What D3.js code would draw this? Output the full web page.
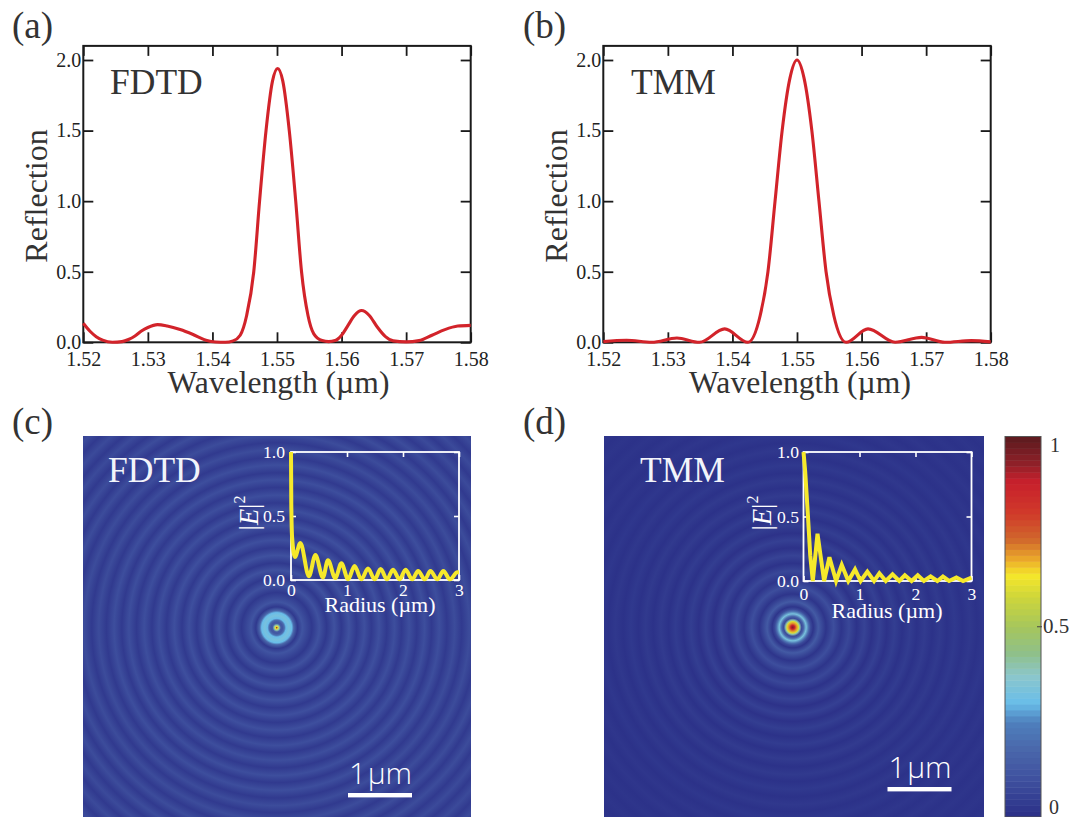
<!DOCTYPE html>
<html>
<head>
<meta charset="utf-8">
<script src="https://cdn.jsdelivr.net/npm/d3@7"></script>
<style>
body { margin: 0; background: #fff; }
text { font-family: "Liberation Serif", serif; }
</style>
</head>
<body>
<div id="chart"></div>
<script>
// Reflection spectra (a) and (b)
var fdtdWave = [1.52, 1.521, 1.522, 1.523, 1.5245, 1.526, 1.527, 1.528, 1.529, 1.53, 1.5315, 1.533, 1.535, 1.537, 1.539, 1.5405, 1.542, 1.5432, 1.5443, 1.5453, 1.5464, 1.5473, 1.5483, 1.5493, 1.5501, 1.5509, 1.5519, 1.5529, 1.5538, 1.5548, 1.5557, 1.557, 1.558, 1.559, 1.56, 1.561, 1.562, 1.5631, 1.5643, 1.5655, 1.5668, 1.568, 1.57, 1.572, 1.574, 1.576, 1.578, 1.58];
var fdtdRefl = [0.135, 0.08, 0.04, 0.015, 0, 0.005, 0.02, 0.045, 0.08, 0.105, 0.125, 0.115, 0.09, 0.055, 0.015, 0.002, 0, 0.01, 0.05, 0.19, 0.5, 1.0, 1.5, 1.85, 1.94, 1.85, 1.5, 1.0, 0.5, 0.19, 0.06, 0.012, 0.005, 0.012, 0.05, 0.12, 0.19, 0.225, 0.19, 0.11, 0.04, 0.01, 0.003, 0.012, 0.05, 0.09, 0.115, 0.12];
var tmmWave = [1.52, 1.5236, 1.5275, 1.5314, 1.5349, 1.5388, 1.5424, 1.5443, 1.5455, 1.5466, 1.5477, 1.5489, 1.55, 1.5511, 1.5523, 1.5534, 1.5545, 1.5557, 1.5576, 1.561, 1.5652, 1.5693, 1.5729, 1.577, 1.58];
var tmmRefl = [0.005, 0.015, 0, 0.03, 0, 0.095, 0, 0.19, 0.5, 1.0, 1.5, 1.87, 2.0, 1.87, 1.5, 1.0, 0.5, 0.19, 0, 0.095, 0, 0.035, 0, 0.012, 0.003];

// Radial |E|^2 profiles shown in the insets
var fdtdRadius = [0, 0.005, 0.02, 0.07, 0.167, 0.32, 0.436, 0.57, 0.66, 0.79, 0.9, 1.02, 1.135, 1.255, 1.375, 1.495, 1.6, 1.715, 1.82, 1.94, 2.045, 2.165, 2.27, 2.39, 2.49, 2.615, 2.72, 2.84, 2.97, 3];
var fdtdField = [1, 0.6, 0.33, 0.18, 0.29, 0.03, 0.195, 0.02, 0.155, 0.015, 0.13, 0.005, 0.11, 0.005, 0.09, 0.005, 0.086, 0.005, 0.08, 0.005, 0.08, 0.005, 0.07, 0.005, 0.07, 0.005, 0.07, 0.005, 0.06, 0.06];
var tmmRadius = [0, 0.03, 0.08, 0.12, 0.166, 0.25, 0.368, 0.463, 0.582, 0.683, 0.8, 0.92, 1.02, 1.14, 1.26, 1.355, 1.47, 1.59, 1.71, 1.81, 1.93, 2.04, 2.15, 2.27, 2.39, 2.49, 2.6, 2.73, 2.85, 3];
var tmmField = [1, 0.85, 0.5, 0.2, 0, 0.366, 0, 0.184, 0, 0.125, 0, 0.09, 0, 0.073, 0, 0.06, 0, 0.052, 0, 0.044, 0, 0.044, 0, 0.036, 0, 0.034, 0, 0.028, 0, 0.026];

// Ring profiles of the two maps (radius in um, intensity)
var fdtdMapR = [0, 0.02, 0.04, 0.065, 0.09, 0.12, 0.145, 0.19, 0.235, 0.265, 0.325, 0.4, 0.55, 0.665, 0.78, 0.9, 1.01, 1.13, 1.25, 1.37, 1.48, 1.6, 1.72, 1.84, 1.95, 2.07, 2.19, 2.31, 2.42, 2.54, 2.66, 2.78, 2.89, 3.01, 3.13, 3.25, 3.36, 3.48, 3.6, 3.72, 3.83, 3.95, 4.07, 4.19, 4.3];
var fdtdMapV = [0.95, 0.64, 0.4, 0.14, 0.12, 0.2, 0.3, 0.33, 0.3, 0.18, 0.03, 0.11, 0.03, 0.1, 0.03, 0.1, 0.03, 0.1, 0.035, 0.095, 0.035, 0.095, 0.035, 0.09, 0.035, 0.09, 0.035, 0.09, 0.035, 0.09, 0.035, 0.085, 0.035, 0.085, 0.035, 0.085, 0.035, 0.085, 0.035, 0.08, 0.035, 0.08, 0.035, 0.08, 0.035];
var tmmMapR = [0, 0.03, 0.06, 0.09, 0.11, 0.14, 0.17, 0.21, 0.25, 0.28, 0.32, 0.4, 0.52, 0.64, 0.76, 0.88, 1, 1.12, 1.24, 1.36, 1.47, 1.59, 1.71, 1.83, 1.94, 2.06, 2.18, 2.3, 2.41, 2.53, 2.65, 2.77, 2.88, 3, 3.12, 3.24, 3.35, 3.47, 3.59, 3.71, 3.82, 3.94, 4.06, 4.18, 4.3];
var tmmMapV = [0.95, 0.88, 0.7, 0.6, 0.4, 0.08, 0.17, 0.33, 0.2, 0.08, 0.02, 0.13, 0.02, 0.09, 0.02, 0.07, 0.015, 0.06, 0.012, 0.05, 0.012, 0.045, 0.01, 0.04, 0.01, 0.036, 0.01, 0.033, 0.01, 0.03, 0.01, 0.028, 0.01, 0.026, 0.01, 0.024, 0.01, 0.022, 0.01, 0.02, 0.01, 0.02, 0.01, 0.02, 0.01];

// Colour bar
var barValues = [0, 0.1, 0.18, 0.25, 0.3, 0.37, 0.43, 0.5, 0.58, 0.635, 0.68, 0.73, 0.8, 0.88, 0.93, 1];
var barColors = ["#2a2e86", "#3f519f", "#4a68ab", "#4f80bd", "#69bde9", "#8bc6cc", "#8fc08a", "#a6c65c", "#cfd63a", "#f5e72a", "#eaa62a", "#d0672c", "#d0392a", "#c8202c", "#8e2028", "#5a1a1e"];

var waveTicks = [1.52, 1.53, 1.54, 1.55, 1.56, 1.57, 1.58];
var reflTicks = [0, 0.5, 1, 1.5, 2];
var radiusTicks = [0, 1, 2, 3];
var fieldTicks = [0, 0.5, 1];

var svgWidth = 1084;
var svgHeight = 817;

var svg = d3.select("#chart")
            .append("svg")
            .attr("width", svgWidth)
            .attr("height", svgHeight)
            .style("display", "block");

var colorScale = d3.scaleLinear().domain(barValues).range(barColors);
var defs = svg.append("defs");

// Panels (a) and (b)
function spectrum(left, right, wave, refl, tag, tagX, name, labelX, titleX, yLabelX) {
    var xScale = d3.scaleLinear().domain([1.52, 1.58]).range([left, right]);
    var yScale = d3.scaleLinear().domain([0, 2]).range([342.3, 60]);
    var top = yScale(2.1);
    var bottom = yScale(0);
    var g = svg.append("g");

    // ticks on all four sides
    var axes = [
        g.append("g").attr("transform", `translate(0, ${bottom})`).call(d3.axisBottom(xScale).tickValues(waveTicks).tickSize(-10).tickPadding(9.5).tickFormat(d3.format(".2f"))),
        g.append("g").attr("transform", `translate(0, ${top})`).call(d3.axisBottom(xScale).tickValues(waveTicks).tickSize(10).tickFormat("")),
        g.append("g").attr("transform", `translate(${left}, 0)`).call(d3.axisLeft(yScale).tickValues(reflTicks).tickSize(-10).tickPadding(2).tickFormat(d3.format(".1f"))),
        g.append("g").attr("transform", `translate(${right}, 0)`).call(d3.axisLeft(yScale).tickValues(reflTicks).tickSize(10).tickFormat(""))
    ];
    axes.forEach(function(a) {
        a.selectAll(".domain").remove();
        a.selectAll("line").attr("stroke", "#1a1a1a").attr("stroke-width", 1.8);
        a.selectAll("text").attr("fill", "#222").attr("font-size", 20);
    });

    g.append("rect")
     .attr("x", left).attr("y", top)
     .attr("width", right - left).attr("height", bottom - top)
     .attr("fill", "none")
     .attr("stroke", "#1a1a1a")
     .attr("stroke-width", 2);

    var line = d3.line()
                 .x(d => xScale(d[0]))
                 .y(d => yScale(d[1]))
                 .curve(d3.curveMonotoneX);
    g.append("path")
     .datum(d3.zip(wave, refl))
     .attr("d", line)
     .attr("fill", "none")
     .attr("stroke", "#d2232a")
     .attr("stroke-width", 3.1);

    svg.append("text").text(tag).attr("x", tagX).attr("y", 38).attr("font-size", 37).attr("fill", "#333");
    svg.append("text").text(name).attr("x", labelX).attr("y", 94).attr("font-size", 35.5).attr("fill", "#333");
    svg.append("text").text("Wavelength (\u00b5m)").attr("x", titleX).attr("y", 393)
       .attr("text-anchor", "middle").attr("font-size", 31.6).attr("fill", "#333");
    svg.append("text").text("Reflection")
       .attr("transform", `translate(${yLabelX}, 196) rotate(-90)`)
       .attr("text-anchor", "middle").attr("font-size", 32).attr("fill", "#333");
}

spectrum(83.3, 470.7, fdtdWave, fdtdRefl, "(a)", 12, "FDTD", 110, 278.5, 47);
spectrum(603.3, 990.7, tmmWave, tmmRefl, "(b)", 523, "TMM", 631, 800, 567);

// Panels (c) and (d): map painted as a radial gradient, with |E|^2 inset on top
function fieldMap(opt) {
    var rMax = 4.3;
    var pxScale = d3.scaleLinear().domain([0, rMax]).range([0, rMax * opt.pxPerUm]);
    var stopScale = d3.scaleLinear().domain([0, rMax]).range([0, 1]);

    var grad = defs.append("radialGradient")
                   .attr("id", opt.id)
                   .attr("gradientUnits", "userSpaceOnUse")
                   .attr("cx", opt.cx).attr("cy", opt.cy)
                   .attr("fx", opt.cx).attr("fy", opt.cy)
                   .attr("r", pxScale(rMax));
    grad.selectAll("stop")
        .data(d3.zip(opt.mapR, opt.mapV))
        .enter()
        .append("stop")
        .attr("offset", d => stopScale(d[0]))
        .attr("stop-color", d => colorScale(d[1]));

    svg.append("rect")
       .attr("x", opt.left).attr("y", 436)
       .attr("width", opt.right - opt.left).attr("height", svgHeight - 436)
       .attr("fill", `url(#${opt.id})`);

    // inset
    var xScale = d3.scaleLinear().domain([0, 3]).range([opt.inLeft, opt.inRight]);
    var yScale = d3.scaleLinear().domain([0, 1]).range([opt.inBottom, 452]);
    var g = svg.append("g");

    var axes = [
        g.append("g").attr("transform", `translate(0, ${opt.inBottom})`).call(d3.axisBottom(xScale).tickValues(radiusTicks).tickSize(-5).tickPadding(opt.xPad).tickFormat(d3.format("d"))),
        g.append("g").attr("transform", "translate(0, 452)").call(d3.axisBottom(xScale).tickValues(radiusTicks).tickSize(5).tickFormat("")),
        g.append("g").attr("transform", `translate(${opt.inLeft}, 0)`).call(d3.axisLeft(yScale).tickValues(fieldTicks).tickSize(-5).tickPadding(opt.yPad).tickFormat(d3.format(".1f"))),
        g.append("g").attr("transform", `translate(${opt.inRight}, 0)`).call(d3.axisLeft(yScale).tickValues(fieldTicks).tickSize(5).tickFormat(""))
    ];
    axes.forEach(function(a) {
        a.selectAll(".domain").remove();
        a.selectAll("line").attr("stroke", "#fff").attr("stroke-width", 1.6);
        a.selectAll("text").attr("fill", "#fff").attr("font-size", 17.6);
    });

    g.append("rect")
     .attr("x", opt.inLeft).attr("y", 452)
     .attr("width", opt.inRight - opt.inLeft).attr("height", opt.inBottom - 452)
     .attr("fill", "none")
     .attr("stroke", "#fff")
     .attr("stroke-width", 1.8);

    var line = d3.line()
                 .x(d => xScale(d[0]))
                 .y(d => yScale(d[1]))
                 .curve(opt.curve);
    g.append("path")
     .datum(d3.zip(opt.radius, opt.field))
     .attr("d", line)
     .attr("fill", "none")
     .attr("stroke", "#f6e92b")
     .attr("stroke-width", 4)
     .attr("stroke-linejoin", "miter");

    // labels
    svg.append("text").text(opt.tag).attr("x", opt.tagX).attr("y", 434).attr("font-size", 37).attr("fill", "#333");
    svg.append("text").text(opt.name).attr("x", opt.nameX).attr("y", 482).attr("font-size", 35.5).attr("fill", "#f2f4fa");
    svg.append("text").text("Radius (\u00b5m)").attr("x", opt.radiusX).attr("y", opt.radiusY)
       .attr("text-anchor", "middle").attr("font-size", 22).attr("fill", "#fff");

    var eLabel = svg.append("text")
                    .attr("transform", `translate(${opt.eX}, 513) rotate(-90)`)
                    .attr("text-anchor", "middle")
                    .attr("font-size", 26.5)
                    .attr("fill", "#fff");
    eLabel.append("tspan").text("|");
    eLabel.append("tspan").text("E").attr("font-style", "italic");
    eLabel.append("tspan").text("|");
    eLabel.append("tspan").text("2").attr("font-size", 16).attr("dy", -13);

    // scale bar
    var barText = svg.append("text")
                     .attr("x", opt.barX + 1).attr("y", opt.barY - 11)
                     .attr("font-size", 30).attr("font-weight", 300).attr("fill", "#fff")
                     .style("font-family", "'Open Sans', 'Liberation Sans', sans-serif");
    barText.append("tspan").text("1");
    barText.append("tspan").text("\u00b5m").attr("dx", 1.5);
    svg.append("rect").attr("x", opt.barX).attr("y", opt.barY - 2)
       .attr("width", opt.pxPerUm).attr("height", 4.4).attr("fill", "#fff");
}

fieldMap({
    id: "mapC", left: 83, right: 471, cx: 276.7, cy: 627.7, pxPerUm: 64,
    mapR: fdtdMapR, mapV: fdtdMapV, radius: fdtdRadius, field: fdtdField, curve: d3.curveMonotoneX,
    inLeft: 291, inRight: 459, inBottom: 580, xPad: 3, yPad: 6,
    tag: "(c)", tagX: 12, name: "FDTD", nameX: 108,
    radiusX: 380, radiusY: 612, eX: 258, barX: 348, barY: 795
});
fieldMap({
    id: "mapD", left: 604, right: 984, cx: 792.7, cy: 627.3, pxPerUm: 64,
    mapR: tmmMapR, mapV: tmmMapV, radius: tmmRadius, field: tmmField, curve: d3.curveLinear,
    inLeft: 803.5, inRight: 971.5, inBottom: 581, xPad: 6.5, yPad: 4.5,
    tag: "(d)", tagX: 523, name: "TMM", nameX: 640,
    radiusX: 887, radiusY: 618, eX: 770.5, barX: 887.5, barY: 789
});

// Colour bar on the right
var barX = 1005;
var barW = 36;
var barScale = d3.scaleLinear().domain([0, 1]).range([817, 436.5]);
var levels = d3.range(64).map(i => i / 64);
svg.append("g")
   .selectAll("rect")
   .data(levels)
   .enter()
   .append("rect")
   .attr("x", barX)
   .attr("width", barW)
   .attr("y", d => barScale(d + 1 / 64))
   .attr("height", d => barScale(d) - barScale(d + 1 / 64) + 0.5)
   .attr("fill", d => colorScale(d + 1 / 128));
svg.append("rect")
   .attr("x", barX).attr("y", barScale(1))
   .attr("width", barW).attr("height", barScale(0) - barScale(1))
   .attr("fill", "none")
   .attr("stroke", "#555")
   .attr("stroke-width", 1);
svg.append("line")
   .attr("x1", barX + barW - 4).attr("x2", barX + barW + 1)
   .attr("y1", barScale(0.5)).attr("y2", barScale(0.5))
   .attr("stroke", "#444");
svg.append("text").text("1").attr("x", 1050).attr("y", barScale(1) + 15).attr("font-size", 20).attr("fill", "#333");
svg.append("text").text("0.5").attr("x", 1043).attr("y", barScale(0.5) + 6).attr("font-size", 21).attr("fill", "#333");
svg.append("text").text("0").attr("x", 1049).attr("y", barScale(0) - 3).attr("font-size", 20).attr("fill", "#333");
</script>
</body>
</html>
